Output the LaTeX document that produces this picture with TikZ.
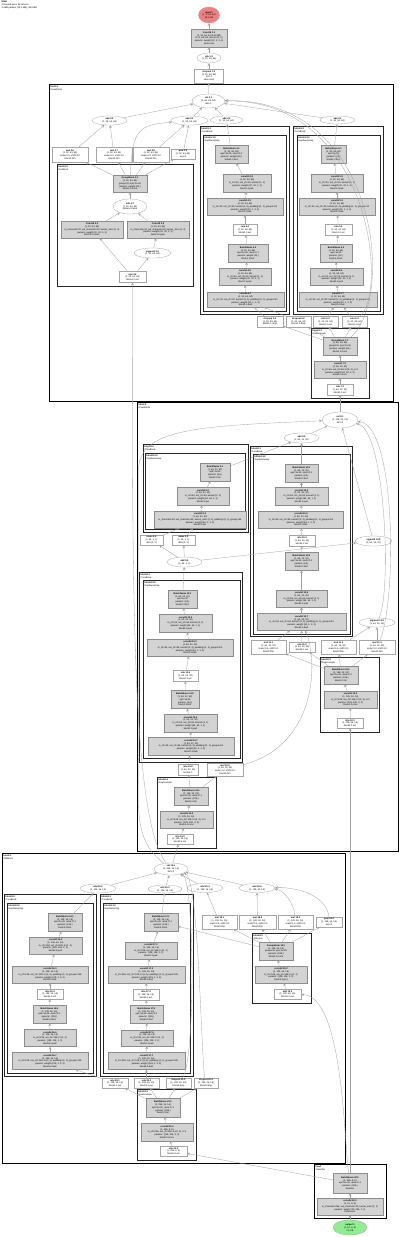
\documentclass[tikz,border=0pt]{standalone}
\usepackage{fontspec}
\setmainfont{Liberation Sans}
\usepackage{xcolor}
\usepackage{tikz}
\usetikzlibrary{shapes.geometric}

\definecolor{modfill}{HTML}{D3D3D3}
\definecolor{modline}{HTML}{8C8C8C}
\definecolor{tenline}{HTML}{A6A6A6}
\definecolor{edgegray}{HTML}{A0A0A0}
\definecolor{inred}{HTML}{F08080}
\definecolor{outgreen}{HTML}{90EE90}

\newcommand{\tinytxt}{\fontsize{2.3}{2.8}\selectfont}

\begin{document}
\begin{tikzpicture}[x=1pt, y=-1pt,
    wh/.style 2 args={minimum width=#1pt, minimum height=#2pt},
    layer/.style={rectangle, draw=modline, fill=modfill, line width=0.3pt, inner sep=0.4pt, align=center, font=\tinytxt},
    tensor/.style={rectangle, draw=tenline, fill=white, line width=0.3pt, inner sep=0.4pt, align=center, font=\tinytxt},
    func/.style={ellipse, draw=tenline, fill=white, line width=0.3pt, inner sep=0pt, align=center, font=\tinytxt},
    block/.style={draw=black, line width=1pt},
    group/.style={draw=black!85, line width=0.75pt},
    clabel/.style={anchor=north west, align=left, inner sep=0.4pt, font=\tinytxt},
    edge/.style={<-, >=stealth, draw=edgegray, line width=0.3pt}]

\path[use as bounding box, fill=white] (0,0) rectangle (400,1237);

% Title
\node[clabel] (title) at (1,0.5) {\textbf{UNet}\\1 forward pass, 96 tensors\\3.46M params (13.2 MB), 48.6 MB};

% Stem
\node[func, fill=inred, wh={21}{16}] (in) at (209,15) {\textbf{input 1}\\(1, 3, 64, 64)\\48.0 KB};
\node[layer, wh={36}{18}] (stem) at (209,38) {\textbf{Conv2d 1.1}\\(1, 32, 64, 64) 0.50 MB\\in=3, out=32, kernel=(3, 3)\\params: weight (32, 3, 3, 3)\\stem.conv};
\node[func, wh={24}{10}] (stemact) at (209,58) {\textbf{silu 1.2}\\(1, 32, 64, 64)};
\node[tensor, wh={29}{14}] (stemdrop) at (209,76) {\textbf{dropout 1.3}\\(1, 32, 64, 64)\\p=0.1\\stem.drop};

% Block 1
\draw[block] (49,84) rectangle (393,401);
\node[clabel] (b1lbl) at (50,85) {\textbf{block 1}\\DownBlock};
\draw[group] (57,164) rectangle (193,286);
\node[clabel] (b1l0) at (58,165) {\textbf{block1.0}\\ResBlock};
\draw[group] (200,126) rectangle (289,314);
\node[clabel] (b1l1) at (201,127) {\textbf{block1.1}\\ConvBlock};
\draw[group] (203,135) rectangle (286,311);
\node[clabel] (b1l10) at (204,136) {\textbf{block1.1.0}\\DepthwiseSep};
\draw[group] (293,126) rectangle (383,314);
\node[clabel] (b1l2) at (294,127) {\textbf{block1.2}\\ConvBlock};
\draw[group] (297,135) rectangle (380,311);
\node[clabel] (b1l20) at (298,136) {\textbf{block1.2.0}\\DepthwiseSep};
\draw[group] (311,328) rectangle (369,398);
\node[clabel] (b1l3) at (312,329) {\textbf{block1.3}\\Downsample};

\node[func, wh={33}{14}] (b1cat) at (208.5,101) {\textbf{cat 2.1}\\(1, 64, 64, 64)\\dim=1};
\node[func, wh={35}{9}] (b1add1) at (109.5,120.5) {\textbf{add 2.2}\\(1, 32, 64, 64)};
\node[func, wh={37}{9}] (b1add2) at (189.5,120.5) {\textbf{add 2.3}\\(1, 32, 64, 64)};
\node[func, wh={33}{8}] (b1add3) at (226.5,120) {\textbf{add 2.4}\\(1, 32, 64, 64)};
\node[func, wh={35}{8}] (b1add4) at (337.5,120) {\textbf{add 2.5}\\(1, 32, 64, 64)};

\node[tensor, wh={36}{15}] (b1mul1) at (70,154.5) {\textbf{mul 2.6}\\(1, 32, 64, 64)\\scale=0.5, shift=0.0\\block1.film};
\node[tensor, wh={36}{15}] (b1mul2) at (114,154.5) {\textbf{mul 2.7}\\(1, 32, 64, 64)\\scale=0.5, shift=0.0\\block1.film};
\node[tensor, wh={36}{15}] (b1mul3) at (151,154.5) {\textbf{mul 2.8}\\(1, 32, 64, 64)\\scale=1.0, shift=0.0\\block1.film};
\node[tensor, wh={24}{10}] (b1pow) at (183,154) {\textbf{pow 2.9}\\(1, 32, 64, 64)\\exp=2};

\node[layer, wh={34}{17}] (b1gn) at (130,183.5) {\textbf{GroupNorm 3.1}\\(1, 32, 64, 64)\\groups=8, eps=1e-05\\params: weight (32,)\\block1.0.norm};
\node[func, wh={34}{15}] (b1silu) at (130,206.5) {\textbf{silu 3.2}\\(1, 32, 64, 64)\\inplace=False};
\node[layer, wh={62}{17}] (b1conv1) at (92,229.5) {\textbf{Conv2d 3.3}\\(1, 32, 64, 64)\\in\_channels=32, out\_channels=32, kernel\_size=(3, 3)\\params: weight (32, 32, 3, 3)\\block1.0.conv1};
\node[layer, wh={62}{17}] (b1conv2) at (158,229.5) {\textbf{Conv2d 3.4}\\(1, 32, 64, 64)\\in\_channels=32, out\_channels=32, kernel\_size=(3, 3)\\params: weight (32, 32, 3, 3)\\block1.0.gate};
\node[func, wh={37}{10}] (b1sig) at (152.5,253) {\textbf{sigmoid 3.5}\\(1, 32, 64, 64)};
\node[tensor, wh={27}{11}] (b1out) at (132.5,277) {\textbf{mul 3.6}\\(1, 32, 64, 64)\\block1.0.out};

\node[layer, wh={33}{18}] (b1bnA1) at (231.5,154) {\textbf{BatchNorm 4.1}\\(1, 32, 64, 64)\\eps=1e-05, mom=0.1\\params: weight (32,)\\block1.1.bn1};
\node[layer, wh={48}{18}] (b1pwA1) at (247,183) {\textbf{conv2d 4.2}\\(1, 32, 64, 64)\\in\_ch=32, out\_ch=32, kernel=(1, 1)\\params: weight (32, 32, 1, 1)\\block1.1.pw1};
\node[layer, wh={76}{17}] (b1dwA1) at (245,206.5) {\textbf{conv2d 4.3}\\(1, 32, 64, 64)\\in\_ch=32, out\_ch=32, kernel=(3, 3), padding=(1, 1), groups=32\\params: weight (32, 1, 3, 3)\\block1.1.dw1};
\node[tensor, wh={24}{11}] (b1reluA) at (245,229.5) {\textbf{relu 4.4}\\(1, 32, 64, 64)\\block1.1.act};
\node[layer, wh={40}{18}] (b1bnA2) at (248,253) {\textbf{BatchNorm 4.5}\\(1, 32, 64, 64)\\eps=1e-05, mom=0.1\\params: weight (32,)\\block1.1.bn2};
\node[layer, wh={52}{17}] (b1pwA2) at (245,276.5) {\textbf{conv2d 4.6}\\(1, 32, 64, 64)\\in\_ch=32, out\_ch=32, kernel=(1, 1)\\params: weight (32, 32, 1, 1)\\block1.1.pw2};
\node[layer, wh={77}{15}] (b1dwA2) at (245.5,299.5) {\textbf{conv2d 4.7}\\(1, 32, 64, 64)\\in\_ch=32, out\_ch=32, kernel=(3, 3), padding=(1, 1), groups=32\\params: weight (32, 1, 3, 3)\\block1.1.dw2};

\node[layer, wh={25}{18}] (b1bnB1) at (333.5,154) {\textbf{BatchNorm 5.1}\\(1, 32, 64, 64)\\eps=1e-05\\params: (32,)\\block1.2.bn1};
\node[layer, wh={52}{18}] (b1pwB1) at (337,183) {\textbf{conv2d 5.2}\\(1, 32, 64, 64)\\in\_ch=32, out\_ch=32, kernel=(1, 1)\\params: weight (32, 32, 1, 1)\\block1.2.pw1};
\node[layer, wh={76}{17}] (b1dwB1) at (337,206.5) {\textbf{conv2d 5.3}\\(1, 32, 64, 64)\\in\_ch=32, out\_ch=32, kernel=(3, 3), padding=(1, 1), groups=32\\params: weight (32, 1, 3, 3)\\block1.2.dw1};
\node[tensor, wh={27}{11}] (b1reluB) at (338.5,229.5) {\textbf{relu 5.4}\\(1, 32, 64, 64)\\block1.2.act};
\node[layer, wh={32}{18}] (b1bnB2) at (336,253) {\textbf{BatchNorm 5.5}\\(1, 32, 64, 64)\\eps=1e-05\\params: (32,)\\block1.2.bn2};
\node[layer, wh={53}{17}] (b1pwB2) at (336.5,276.5) {\textbf{conv2d 5.6}\\(1, 32, 64, 64)\\in\_ch=32, out\_ch=32, kernel=(1, 1)\\params: weight (32, 32, 1, 1)\\block1.2.pw2};
\node[layer, wh={78}{15}] (b1dwB2) at (338,299.5) {\textbf{conv2d 5.7}\\(1, 32, 64, 64)\\in\_ch=32, out\_ch=32, kernel=(3, 3), padding=(1, 1), groups=32\\params: weight (32, 1, 3, 3)\\block1.2.dw2};

\node[tensor, wh={26}{11}] (b1drop1) at (270,321.5) {\textbf{dropout 6.1}\\(1, 32, 64, 64)\\block1.1.drop};
\node[tensor, wh={25}{11}] (b1drop2) at (298.5,321.5) {\textbf{dropout 6.2}\\(1, 32, 64, 64)\\block1.1.drop};
\node[tensor, wh={25}{11}] (b1relu3) at (325.5,321.5) {\textbf{relu 6.3}\\(1, 32, 64, 64)\\block1.2.out};
\node[tensor, wh={25}{11}] (b1relu4) at (354.5,321.5) {\textbf{relu 6.4}\\(1, 32, 64, 64)\\block1.2.out};

\node[layer, wh={34}{18}] (b1dsgn) at (340,346) {\textbf{GroupNorm 7.1}\\(1, 64, 64, 64)\\groups=8, eps=1e-05\\params: weight (64,)\\block1.3.norm};
\node[layer, wh={52}{17}] (b1dsconv) at (340,369.5) {\textbf{conv2d 7.2}\\(1, 64, 32, 32)\\in\_ch=64, out\_ch=64, k=(3, 3), s=2\\params: weight (64, 64, 3, 3)\\block1.3.conv};
\node[tensor, wh={26}{11}] (b1dsact) at (340,389.5) {\textbf{silu 7.3}\\(1, 64, 32, 32)\\block1.3.act};

% Block 2
\draw[block] (137,402) rectangle (398,851);
\node[clabel] (b2lbl) at (138,403) {\textbf{block 2}\\DownBlock};
\draw[group] (143,444) rectangle (248,532);
\node[clabel] (b2l0) at (144,445) {\textbf{block2.0}\\ConvBlock};
\draw[group] (145,453) rectangle (245,529);
\node[clabel] (b2l00) at (146,454) {\textbf{block2.0.0}\\DepthwiseSep};
\draw[group] (250,446) rectangle (352,636);
\node[clabel] (b2l1) at (251,447) {\textbf{block2.1}\\ConvBlock};
\draw[group] (253,454) rectangle (350,634);
\node[clabel] (b2l10) at (254,455) {\textbf{block2.1.0}\\DepthwiseSep};
\draw[group] (139,572) rectangle (242,762);
\node[clabel] (b2l3) at (140,573) {\textbf{block2.3}\\ConvBlock};
\draw[group] (143,580) rectangle (240,758);
\node[clabel] (b2l30) at (144,581) {\textbf{block2.3.0}\\DepthwiseSep};
\draw[group] (320,657) rectangle (379,732);
\node[clabel] (b2l2) at (321,658) {\textbf{block2.2}\\Downsample};
\draw[group] (157,777) rectangle (216,848);
\node[clabel] (b2l4) at (158,778) {\textbf{block2.4}\\Downsample};

\node[func, wh={36}{16}] (b2cat) at (340,420) {\textbf{cat 8.1}\\(1, 128, 32, 32)\\dim=1};
\node[func, wh={35}{10}] (b2add1) at (301.5,438) {\textbf{add 8.2}\\(1, 64, 32, 32)};

\node[layer, wh={30}{18}] (b2bnD) at (215,472) {\textbf{BatchNorm 9.1}\\(1, 64, 32, 32)\\eps=1e-05\\params: (64,)\\block2.0.bn};
\node[layer, wh={52}{18}] (b2pwD) at (203,496) {\textbf{conv2d 9.2}\\(1, 64, 32, 32)\\in\_ch=64, out\_ch=64, kernel=(1, 1)\\params: weight (64, 64, 1, 1)\\block2.0.pw};
\node[layer, wh={92}{17}] (b2dwD) at (200,519.5) {\textbf{conv2d 9.3}\\(1, 64, 32, 32)\\in\_channels=64, out\_channels=64, kernel\_size=(3, 3), padding=(1, 1), groups=64\\params: weight (64, 1, 3, 3)\\block2.0.dw};
\node[tensor, wh={23}{10}] (b2sq1) at (151.5,540) {\textbf{mean 9.4}\\(1, 64, 1, 1)\\dim=(2, 3)};
\node[tensor, wh={23}{10}] (b2sq2) at (183.5,540) {\textbf{amax 9.5}\\(1, 64, 1, 1)\\dim=(2, 3)};
\node[func, wh={35}{10}] (b2attn) at (184.5,562) {\textbf{add 9.6}\\(1, 64, 1, 1)};

\node[layer, wh={33}{18}] (b2bnE1) at (301.5,473) {\textbf{BatchNorm 10.1}\\(1, 64, 32, 32)\\eps=1e-05, mom=0.1\\params: (64,)\\block2.1.bn1};
\node[layer, wh={53}{18}] (b2pwE1) at (301.5,496) {\textbf{conv2d 10.2}\\(1, 64, 32, 32)\\in\_ch=64, out\_ch=64, kernel=(1, 1)\\params: weight (64, 64, 1, 1)\\block2.1.pw1};
\node[layer, wh={85}{17}] (b2dwE1) at (301,519.5) {\textbf{conv2d 10.3}\\(1, 64, 32, 32)\\in\_ch=64, out\_ch=64, kernel=(3, 3), padding=(1, 1), groups=64\\params: weight (64, 1, 3, 3)\\block2.1.dw1};
\node[tensor, wh={26}{11}] (b2reluE) at (302,540.5) {\textbf{relu 10.4}\\(1, 64, 32, 32)\\block2.1.act};
\node[layer, wh={33}{18}] (b2bnE2) at (301.5,561) {\textbf{BatchNorm 10.5}\\(1, 64, 32, 32)\\eps=1e-05, mom=0.1\\params: (64,)\\block2.1.bn2};
\node[layer, wh={51}{17}] (b2pwE2) at (301.5,598.5) {\textbf{conv2d 10.6}\\(1, 64, 32, 32)\\in\_ch=64, out\_ch=64, kernel=(1, 1)\\params: weight (64, 64, 1, 1)\\block2.1.pw2};
\node[layer, wh={89}{17}] (b2dwE2) at (301.5,622) {\textbf{conv2d 10.7}\\(1, 64, 32, 32)\\in\_ch=64, out\_ch=64, kernel=(3, 3), padding=(1, 1), groups=64\\params: weight (64, 1, 3, 3)\\block2.1.dw2};
\node[func, wh={37}{10}] (b2sig1) at (373.5,541) {\textbf{sigmoid 10.8}\\(1, 64, 32, 32)};
\node[func, wh={36}{9}] (b2sig2) at (377,622.5) {\textbf{sigmoid 10.9}\\(1, 64, 32, 32)};

\node[tensor, wh={35}{14}] (b2mul1) at (268.5,647) {\textbf{mul 11.1}\\(1, 64, 32, 32)\\scale=0.5, shift=0.0\\block2.film};
\node[tensor, wh={26}{10}] (b2relu) at (302,647) {\textbf{relu 11.2}\\(1, 64, 32, 32)\\block2.1.out};
\node[tensor, wh={35}{14}] (b2mul2) at (338.5,647) {\textbf{mul 11.3}\\(1, 64, 32, 32)\\scale=0.5, shift=0.0\\block2.film};
\node[tensor, wh={36}{14}] (b2mul3) at (377,647) {\textbf{mul 11.4}\\(1, 64, 32, 32)\\scale=1.0, shift=0.0\\block2.film};

\node[layer, wh={34}{18}] (b2dsbn) at (341,675) {\textbf{BatchNorm 12.1}\\(1, 128, 32, 32)\\eps=1e-05, mom=0.1\\params: (128,)\\block2.2.bn};
\node[layer, wh={53}{17}] (b2dsconv) at (350.5,699.5) {\textbf{conv2d 12.2}\\(1, 128, 16, 16)\\in\_ch=128, out\_ch=128, k=(3, 3), s=2\\params: (128, 128, 3, 3)\\block2.2.conv};
\node[tensor, wh={26}{10}] (b2dsact) at (350,723) {\textbf{silu 12.3}\\(1, 128, 16, 16)\\block2.2.act};

\node[layer, wh={29}{18}] (b2bnF1) at (182.5,599) {\textbf{BatchNorm 13.1}\\(1, 64, 32, 32)\\eps=1e-05\\params: (64,)\\block2.3.bn1};
\node[layer, wh={53}{18}] (b2pwF1) at (185.5,623) {\textbf{conv2d 13.2}\\(1, 64, 32, 32)\\in\_ch=64, out\_ch=64, kernel=(1, 1)\\params: weight (64, 64, 1, 1)\\block2.3.pw1};
\node[layer, wh={86}{17}] (b2dwF1) at (190,647.5) {\textbf{conv2d 13.3}\\(1, 64, 32, 32)\\in\_ch=64, out\_ch=64, kernel=(3, 3), padding=(1, 1), groups=64\\params: weight (64, 1, 3, 3)\\block2.3.dw1};
\node[tensor, wh={25}{11}] (b2reluF) at (185.5,675.5) {\textbf{relu 13.4}\\(1, 64, 32, 32)\\block2.3.act};
\node[layer, wh={28}{18}] (b2bnF2) at (185,699.5) {\textbf{BatchNorm 13.5}\\(1, 64, 32, 32)\\eps=1e-05\\params: (64,)\\block2.3.bn2};
\node[layer, wh={53}{18}] (b2pwF2) at (190.5,723) {\textbf{conv2d 13.6}\\(1, 64, 32, 32)\\in\_ch=64, out\_ch=64, kernel=(1, 1)\\params: weight (64, 64, 1, 1)\\block2.3.pw2};
\node[layer, wh={86}{18}] (b2dwF2) at (191,746) {\textbf{conv2d 13.7}\\(1, 64, 32, 32)\\in\_ch=64, out\_ch=64, kernel=(3, 3), padding=(1, 1), groups=64\\params: weight (64, 1, 3, 3)\\block2.3.dw2};
\node[tensor, wh={20}{11}] (b2relu2) at (188,769.5) {\textbf{relu 13.8}\\(1, 64, 32, 32)\\block2.3};
\node[tensor, wh={36}{13}] (b2mul4) at (225,769.5) {\textbf{mul 13.9}\\(1, 64, 32, 32)\\scale=1.0, shift=0.0\\block2.film};

\node[layer, wh={34}{18}] (b2hbn) at (191,796) {\textbf{BatchNorm 14.1}\\(1, 128, 32, 32)\\eps=1e-05, mom=0.1\\params: (128,)\\block2.4.bn};
\node[layer, wh={53}{17}] (b2hconv) at (186.5,819.5) {\textbf{conv2d 14.2}\\(1, 128, 16, 16)\\in\_ch=128, out\_ch=128, k=(3, 3), s=2\\params: (128, 128, 3, 3)\\block2.4.conv};
\node[tensor, wh={26}{10}] (b2hact) at (180,839) {\textbf{silu 14.3}\\(1, 128, 16, 16)\\block2.4.act};

% Block 3
\draw[block] (2,853) rectangle (345,1163);
\node[clabel] (b3lbl) at (3,854) {\textbf{block 3}\\MidBlock};
\draw[group] (4,894) rectangle (96,1076);
\node[clabel] (b3l0) at (5,895) {\textbf{block3.0}\\ConvBlock};
\draw[group] (7,903) rectangle (93,1073);
\node[clabel] (b3l00) at (8,904) {\textbf{block3.0.0}\\DepthwiseSep};
\draw[group] (100,894) rectangle (193,1076);
\node[clabel] (b3l1) at (101,895) {\textbf{block3.1}\\ConvBlock};
\draw[group] (103,903) rectangle (190,1073);
\node[clabel] (b3l10) at (104,904) {\textbf{block3.1.0}\\DepthwiseSep};
\draw[group] (252,933) rectangle (311,1003);
\node[clabel] (b3l2) at (253,934) {\textbf{block3.2}\\Attention};
\draw[group] (137,1089) rectangle (196,1160);
\node[clabel] (b3l3) at (138,1090) {\textbf{block3.3}\\Downsample};

\node[func, wh={34}{12}] (b3cat) at (171,869) {\textbf{cat 15.1}\\(1, 256, 16, 16)\\dim=1};
\node[func, wh={36}{9}] (b3add1) at (98,888.5) {\textbf{add 15.2}\\(1, 128, 16, 16)};
\node[func, wh={34}{8}] (b3add2) at (165,889) {\textbf{add 15.3}\\(1, 128, 16, 16)};
\node[func, wh={36}{9}] (b3add3) at (205,888) {\textbf{add 15.4}\\(1, 128, 16, 16)};
\node[func, wh={36}{9}] (b3add4) at (257,888) {\textbf{add 15.5}\\(1, 128, 16, 16)};

\node[layer, wh={34}{18}] (b3bnI1) at (65,922) {\textbf{BatchNorm 16.1}\\(1, 128, 16, 16)\\eps=1e-05, mom=0.1\\params: (128,)\\block3.0.bn1};
\node[layer, wh={53}{17}] (b3pwI1) at (55.5,945.5) {\textbf{conv2d 16.2}\\(1, 128, 16, 16)\\in\_ch=128, out\_ch=128, k=(1, 1)\\params: (128, 128, 1, 1)\\block3.0.pw1};
\node[layer, wh={76}{17}] (b3dwI1) at (50,974.5) {\textbf{conv2d 16.3}\\(1, 128, 16, 16)\\in\_ch=128, out\_ch=128, k=(3, 3), padding=(1, 1), groups=128\\params: weight (128, 1, 3, 3)\\block3.0.dw1};
\node[tensor, wh={26}{10}] (b3reluI) at (50,994) {\textbf{relu 16.4}\\(1, 128, 16, 16)\\block3.0.act};
\node[layer, wh={33}{18}] (b3bnI2) at (49.5,1014) {\textbf{BatchNorm 16.5}\\(1, 128, 16, 16)\\eps=1e-05, mom=0.1\\params: (128,)\\block3.0.bn2};
\node[layer, wh={52}{17}] (b3pwI2) at (50,1038) {\textbf{conv2d 16.6}\\(1, 128, 16, 16)\\in\_ch=128, out\_ch=128, k=(1, 1)\\params: (128, 128, 1, 1)\\block3.0.pw2};
\node[layer, wh={76}{17}] (b3dwI2) at (50,1061) {\textbf{conv2d 16.7}\\(1, 128, 16, 16)\\in\_ch=128, out\_ch=128, k=(3, 3), padding=(1, 1), groups=128\\params: weight (128, 1, 3, 3)\\block3.0.dw2};

\node[layer, wh={34}{18}] (b3bnJ1) at (161,922) {\textbf{BatchNorm 17.1}\\(1, 128, 16, 16)\\eps=1e-05, mom=0.1\\params: (128,)\\block3.1.bn1};
\node[layer, wh={52}{17}] (b3pwJ1) at (151,950.5) {\textbf{conv2d 17.2}\\(1, 128, 16, 16)\\in\_ch=128, out\_ch=128, k=(1, 1)\\params: (128, 128, 1, 1)\\block3.1.pw1};
\node[layer, wh={77}{17}] (b3dwJ1) at (146.5,974.5) {\textbf{conv2d 17.3}\\(1, 128, 16, 16)\\in\_ch=128, out\_ch=128, k=(3, 3), padding=(1, 1), groups=128\\params: weight (128, 1, 3, 3)\\block3.1.dw1};
\node[tensor, wh={26}{11}] (b3reluJ) at (146,994.5) {\textbf{relu 17.4}\\(1, 128, 16, 16)\\block3.1.act};
\node[layer, wh={33}{18}] (b3bnJ2) at (146.5,1014) {\textbf{BatchNorm 17.5}\\(1, 128, 16, 16)\\eps=1e-05, mom=0.1\\params: (128,)\\block3.1.bn2};
\node[layer, wh={52}{16}] (b3pwJ2) at (147,1038) {\textbf{conv2d 17.6}\\(1, 128, 16, 16)\\in\_ch=128, out\_ch=128, k=(1, 1)\\params: (128, 128, 1, 1)\\block3.1.pw2};
\node[layer, wh={77}{17}] (b3dwJ2) at (146.5,1061) {\textbf{conv2d 17.7}\\(1, 128, 16, 16)\\in\_ch=128, out\_ch=128, k=(3, 3), padding=(1, 1), groups=128\\params: weight (128, 1, 3, 3)\\block3.1.dw2};

\node[tensor, wh={35}{14}] (b3mul1) at (219.5,922) {\textbf{mul 18.1}\\(1, 128, 16, 16)\\scale=0.5, shift=0.0\\block3.film};
\node[tensor, wh={37}{14}] (b3mul2) at (257.5,922) {\textbf{mul 18.2}\\(1, 128, 16, 16)\\scale=0.5, shift=0.0\\block3.film};
\node[tensor, wh={35}{14}] (b3mul3) at (295.5,922) {\textbf{mul 18.3}\\(1, 128, 16, 16)\\scale=1.0, shift=0.0\\block3.film};
\node[tensor, wh={26}{10}] (b3pow) at (329,922) {\textbf{pow 18.4}\\(1, 128, 16, 16)\\exp=2};

\node[layer, wh={34}{18}] (b3kgn) at (276,951) {\textbf{GroupNorm 19.1}\\(1, 128, 16, 16)\\groups=8, eps=1e-05\\params: (128,)\\block3.2.norm};
\node[layer, wh={52}{17}] (b3kconv) at (281,974.5) {\textbf{conv2d 19.2}\\(1, 128, 16, 16)\\in\_ch=128, out\_ch=128, k=(1, 1)\\params: (128, 128, 1, 1)\\block3.2.proj};
\node[tensor, wh={27}{10}] (b3kout) at (287.5,994) {\textbf{add 19.3}\\(1, 128, 16, 16)\\block3.2.out};

\node[tensor, wh={26}{10}] (b3relu1) at (115,1083) {\textbf{relu 20.1}\\(1, 128, 16, 16)\\block3.0.out};
\node[tensor, wh={25}{10}] (b3relu2) at (146.5,1083) {\textbf{relu 20.2}\\(1, 128, 16, 16)\\block3.1.out};
\node[tensor, wh={25}{10}] (b3drop1) at (178.5,1083) {\textbf{dropout 20.3}\\(1, 128, 16, 16)\\block3.drop};
\node[tensor, wh={24}{10}] (b3drop2) at (206,1083) {\textbf{dropout 20.4}\\(1, 128, 16, 16)\\block3.drop};

\node[layer, wh={34}{19}] (b3lbn) at (163,1107.5) {\textbf{BatchNorm 21.1}\\(1, 256, 16, 16)\\eps=1e-05, mom=0.1\\params: (256,)\\block3.3.bn};
\node[layer, wh={52}{18}] (b3lconv) at (167,1132) {\textbf{conv2d 21.2}\\(1, 256, 8, 8)\\in\_ch=256, out\_ch=256, k=(3, 3), s=2\\params: (256, 256, 3, 3)\\block3.3.conv};
\node[tensor, wh={27}{10}] (b3lact) at (173.5,1151) {\textbf{silu 21.3}\\(1, 256, 8, 8)\\block3.3.act};

% Head
\draw[block] (314,1164) rectangle (386,1218);
\node[clabel] (hlbl) at (315,1165) {\textbf{head}\\Classifier};
\node[layer, wh={34}{20}] (hbn) at (350,1183) {\textbf{BatchNorm 22.1}\\(1, 256, 8, 8)\\eps=1e-05, mom=0.1\\params: (256,)\\head.bn};
\node[layer, wh={66}{17}] (hconv) at (350,1206.5) {\textbf{conv2d 22.2}\\(1, 10, 8, 8)\\in\_channels=256, out\_channels=10, kernel\_size=(1, 1)\\params: weight (10, 256, 1, 1)\\head.conv};
\node[func, fill=outgreen, wh={34}{15}] (out) at (350,1227.5) {\textbf{output 1}\\(1, 10, 8, 8)\\2.5 KB};

% Connectors: stem
\draw[edge] (in) -- (stem);
\draw[edge] (stem) -- (stemact);
\draw[edge] (stemact) -- (stemdrop);
\draw[edge] (stemdrop) -- (b1cat);

% Connectors: block 1
\draw[edge] (b1cat) -- (b1add1);
\draw[edge] (b1cat) -- (b1add2);
\draw[edge] (b1cat) -- (b1add3);
\draw[edge] (b1cat) -- (b1add4);
\draw[edge] (b1add1) -- (b1mul1);
\draw[edge] (b1add1) -- (b1mul2);
\draw[edge] (b1add2) -- (b1mul3);
\draw[edge] (b1add2) -- (b1pow);
\draw[edge] (b1add2) .. controls (140,125) and (132,128) .. (b1gn);
\draw[edge] (b1mul1) -- (b1gn);
\draw[edge] (b1mul2) -- (b1gn);
\draw[edge] (b1mul3) -- (b1gn);
\draw[edge] (b1pow) -- (b1gn);
\draw[edge] (b1gn) -- (b1silu);
\draw[edge] (b1silu) -- (b1conv1);
\draw[edge] (b1silu) -- (b1conv2);
\draw[edge] (b1conv2) -- (b1sig);
\draw[edge] (b1conv1) -- (b1out);
\draw[edge] (b1sig) -- (b1out);
\draw[edge] (b1out) .. controls (132,600) and (132,820) .. (b3cat);

\draw[edge] (b1add3) -- (b1bnA1);
\draw[edge] (b1bnA1) -- (b1pwA1);
\draw[edge] (b1pwA1) -- (b1dwA1);
\draw[edge] (b1dwA1) -- (b1reluA);
\draw[edge] (b1reluA) -- (b1bnA2);
\draw[edge] (b1bnA2) -- (b1pwA2);
\draw[edge] (b1pwA2) -- (b1dwA2);
\draw[edge] (b1add4) -- (b1bnB1);
\draw[edge] (b1bnB1) -- (b1pwB1);
\draw[edge] (b1pwB1) -- (b1dwB1);
\draw[edge] (b1dwB1) -- (b1reluB);
\draw[edge] (b1reluB) -- (b1bnB2);
\draw[edge] (b1bnB2) -- (b1pwB2);
\draw[edge] (b1pwB2) -- (b1dwB2);

\draw[edge] (b1dwA2) -- (b1drop1);
\draw[edge] (b1dwA2) -- (b1drop2);
\draw[edge] (b1dwB2) -- (b1relu3);
\draw[edge] (b1dwB2) -- (b1relu4);
\draw[edge] (b1drop1) -- (b1dsgn);
\draw[edge] (b1drop2) -- (b1dsgn);
\draw[edge] (b1relu3) -- (b1dsgn);
\draw[edge] (b1relu4) -- (b1dsgn);
\draw[edge] (b1cat) .. controls (380,98) and (395,300) .. (b1dsgn);
\draw[edge] (b1cat) .. controls (370,100) and (388,290) .. (b1relu4);
\draw[edge] (b1dsgn) -- (b1dsconv);
\draw[edge] (b1dsconv) -- (b1dsact);
\draw[edge] (b1dsact) -- (b2cat);

% Connectors: block 2
\draw[edge] (b2cat) -- (b2add1);
\draw[edge] (b2cat) -- (b2sig1);
\draw[edge] (b2cat) .. controls (385,430) and (392,590) .. (b2sig2);
\draw[edge] (b2cat) .. controls (396,425) and (397,600) .. (b2mul3);
\draw[edge] (b2cat) .. controls (200,426) and (139,428) .. (138.5,470) -- (138.5,800) .. controls (138.5,840) and (150,852) .. (b3cat);
\draw[edge] (b2add1) -- (b2bnD);
\draw[edge] (b2add1) -- (b2bnE1);

\draw[edge] (b2bnD) -- (b2pwD);
\draw[edge] (b2pwD) -- (b2dwD);
\draw[edge] (b2dwD) -- (b2sq1);
\draw[edge] (b2dwD) -- (b2sq2);
\draw[edge] (b2sq1) -- (b2attn);
\draw[edge] (b2sq2) -- (b2attn);
\draw[edge] (b2sig1) -- (b2attn);
\draw[edge] (b2attn) -- (b2bnF1);

\draw[edge] (b2bnE1) -- (b2pwE1);
\draw[edge] (b2pwE1) -- (b2dwE1);
\draw[edge] (b2dwE1) -- (b2reluE);
\draw[edge] (b2reluE) -- (b2bnE2);
\draw[edge] (b2bnE2) -- (b2pwE2);
\draw[edge] (b2pwE2) -- (b2dwE2);
\draw[edge] (b2dwE2) -- (b2mul1);
\draw[edge] (b2dwE2) -- (b2relu);
\draw[edge] (b2dwE2) .. controls (318,660) and (318,745) .. (b2mul4);
\draw[edge] (b2sig2) -- (b2mul2);
\draw[edge] (b2sig2) -- (b2mul3);
\draw[edge] (b2mul1) -- (b2dsbn);
\draw[edge] (b2relu) -- (b2dsbn);
\draw[edge] (b2mul2) -- (b2dsbn);
\draw[edge] (b2mul3) -- (b2dsbn);
\draw[edge] (b2dsbn) -- (b2dsconv);
\draw[edge] (b2dsconv) -- (b2dsact);
\draw[edge] (b2dsact) -- (hbn);

\draw[edge] (b2bnF1) -- (b2pwF1);
\draw[edge] (b2pwF1) -- (b2dwF1);
\draw[edge] (b2dwF1) -- (b2reluF);
\draw[edge] (b2reluF) -- (b2bnF2);
\draw[edge] (b2bnF2) -- (b2pwF2);
\draw[edge] (b2pwF2) -- (b2dwF2);
\draw[edge] (b2dwF2) -- (b2relu2);
\draw[edge] (b2relu2) -- (b2hbn);
\draw[edge] (b2mul4) -- (b2hbn);
\draw[edge] (b2hbn) -- (b2hconv);
\draw[edge] (b2hconv) -- (b2hact);
\draw[edge] (b2hact) -- (b3cat);

% Connectors: block 3
\draw[edge] (b3cat) -- (b3add1);
\draw[edge] (b3cat) -- (b3add2);
\draw[edge] (b3cat) -- (b3add3);
\draw[edge] (b3cat) -- (b3add4);
\draw[edge] (b3add1) -- (b3bnI1);
\draw[edge] (b3add2) -- (b3bnJ1);
\draw[edge] (b3add3) -- (b3mul1);
\draw[edge] (b3add4) -- (b3mul2);
\draw[edge] (b3add4) .. controls (285,890) and (294,905) .. (b3mul3);
\draw[edge] (b3add4) .. controls (305,887) and (328,900) .. (b3pow);
\draw[edge] (b3bnJ1) -- (b3kgn);
\draw[edge] (b3mul1) -- (b3kgn);
\draw[edge] (b3mul2) -- (b3kgn);
\draw[edge] (b3mul3) -- (b3kgn);
\draw[edge] (b3pow) -- (b3kgn);
\draw[edge] (b3kgn) -- (b3kconv);
\draw[edge] (b3kconv) -- (b3kout);
\draw[edge] (b3kout) .. controls (343,996) and (344,1140) .. (hbn);

\draw[edge] (b3bnI1) -- (b3pwI1);
\draw[edge] (b3pwI1) -- (b3dwI1);
\draw[edge] (b3dwI1) -- (b3reluI);
\draw[edge] (b3reluI) -- (b3bnI2);
\draw[edge] (b3bnI2) -- (b3pwI2);
\draw[edge] (b3pwI2) -- (b3dwI2);
\draw[edge] (b3bnJ1) -- (b3pwJ1);
\draw[edge] (b3pwJ1) -- (b3dwJ1);
\draw[edge] (b3dwJ1) -- (b3reluJ);
\draw[edge] (b3reluJ) -- (b3bnJ2);
\draw[edge] (b3bnJ2) -- (b3pwJ2);
\draw[edge] (b3pwJ2) -- (b3dwJ2);

\draw[edge] (b3dwI2) -- (b3relu1);
\draw[edge] (b3dwJ2) -- (b3relu2);
\draw[edge] (b3cat) .. controls (194,880) and (196,1060) .. (b3drop1);
\draw[edge] (b3cat) .. controls (199,878) and (201,1060) .. (b3drop2);
\draw[edge] (b3relu1) -- (b3lbn);
\draw[edge] (b3relu2) -- (b3lbn);
\draw[edge] (b3drop1) -- (b3lbn);
\draw[edge] (b3drop2) -- (b3lbn);
\draw[edge] (b3lbn) -- (b3lconv);
\draw[edge] (b3lconv) -- (b3lact);
\draw[edge] (b3lact) -- (hbn);

% Connectors: head
\draw[edge] (hbn) -- (hconv);
\draw[edge] (hconv) -- (out);

\end{tikzpicture}
\end{document}
